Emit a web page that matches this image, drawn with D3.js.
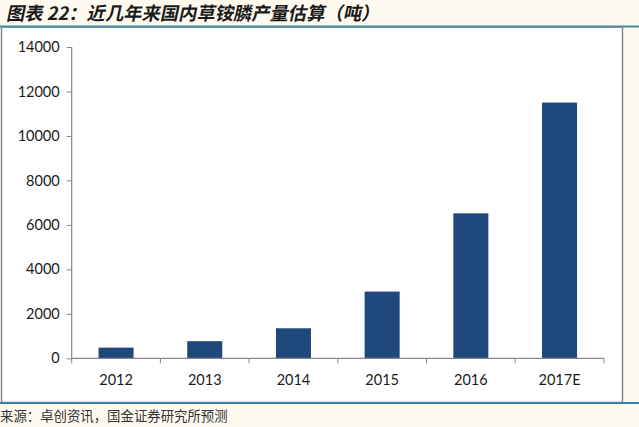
<!DOCTYPE html>
<html><head><meta charset="utf-8">
<script src="https://cdn.jsdelivr.net/npm/d3@7"></script>
<style>
html,body{margin:0;padding:0;background:#fefaf0;}
svg{display:block;}
</style></head>
<body>
<script>
const categories = ["2012","2013","2014","2015","2016","2017E"];
const values = [480, 770, 1350, 3000, 6520, 11500];
const yTicks = [0,2000,4000,6000,8000,10000,12000,14000];
const title = "图表 22：近几年来国内草铵膦产量估算（吨）";
const source = "来源：卓创资讯，国金证券研究所预测";

(function(){
const W = 639, H = 427;
const svg = d3.select("body").append("svg").attr("width", W).attr("height", H);

svg.append("rect").attr("x",0).attr("y",0).attr("width",W).attr("height",H).attr("fill","#fefaf0");
// chart box
svg.append("rect").attr("x",1.5).attr("y",27).attr("width",621).attr("height",375.5)
  .attr("fill","#ffffff").attr("stroke","#8c8c8c").attr("stroke-width",1.5);
// title
svg.append("text").attr("x",0).attr("y",0).text(title)
  .attr("font-family","'Noto Sans CJK SC'").attr("font-weight","bold")
  .attr("font-size",18.3).attr("fill","#1a1a1a").attr("transform","translate(6,20) skewX(-12)");
// lines
svg.append("line").attr("x1",0).attr("x2",W).attr("y1",26.5).attr("y2",26.5).attr("stroke","#3f8a9c").attr("stroke-width",2);
svg.append("line").attr("x1",0).attr("x2",W).attr("y1",403).attr("y2",403).attr("stroke","#3a7fae").attr("stroke-width",2);
// footer
svg.append("text").attr("x",0).attr("y",421).text(source)
  .attr("font-family","'Noto Sans CJK SC'").attr("font-size",13.4).attr("fill","#333");

const pLeft = 71.7, pRight = 603.9, pTop = 47, pBottom = 358.3;
const x = d3.scaleBand().domain(categories).range([pLeft,pRight]).paddingInner(0.605).paddingOuter(0.3025);
const y = d3.scaleLinear().domain([0,14000]).range([pBottom,pTop]);

const g = svg.append("g");
g.selectAll("rect.bar").data(values).enter().append("rect").attr("class","bar")
  .attr("x",(d,i)=>x(categories[i])).attr("width",x.bandwidth())
  .attr("y",d=>y(d)).attr("height",d=>pBottom-y(d)).attr("fill","#1f497d");

const yAxis = g.append("g").attr("transform",`translate(${pLeft},0)`)
  .call(d3.axisLeft(y).tickValues(yTicks).tickSize(5).tickPadding(7).tickFormat(d3.format("d")));
const xAxis = g.append("g").attr("transform",`translate(0,${pBottom})`)
  .call(d3.axisBottom(x).tickSize(0).tickPadding(16));
// category boundary ticks
const step = x.step();
g.selectAll("line.xt").data(d3.range(categories.length+1)).enter().append("line")
  .attr("x1",i=>pLeft+i*step).attr("x2",i=>pLeft+i*step).attr("y1",pBottom).attr("y2",pBottom+5)
  .attr("stroke","#868686");
[yAxis,xAxis].forEach(a=>{
  a.selectAll("path.domain").attr("stroke","#868686").attr("stroke-width",1.2);
  a.selectAll(".tick line").attr("stroke","#868686");
  a.selectAll("text").attr("font-family","Lato").attr("font-size",14.5).attr("fill","#1a1a1a");
});
xAxis.select("path.domain").attr("d",`M${pLeft},0H${pRight}`);
yAxis.select("path.domain").attr("d",`M0,${pTop}V${pBottom}`);
})();
</script>
</body></html>
